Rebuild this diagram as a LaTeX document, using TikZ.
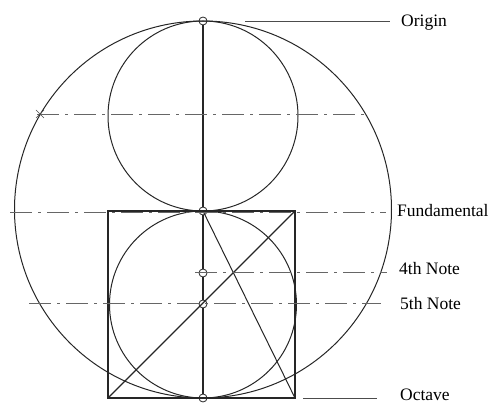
\documentclass[tikz,border=0pt]{standalone}
\usepackage{fontspec}
\setmainfont{Liberation Serif}
\begin{document}
\begin{tikzpicture}[x=1pt,y=-1pt,
  geo/.style={draw=black!85,line width=1pt},
  sq/.style={draw=black!85,line width=1.2pt},
  axis/.style={draw=black!60,line width=0.8pt,dash pattern=on 22pt off 6pt on 3pt off 6pt},
  leader/.style={draw=black!70,line width=0.8pt},
  pt/.style={circle,draw=black!85,line width=0.8pt,inner sep=0pt,minimum size=8pt,fill=none},
  lbl/.style={anchor=base west,inner sep=0pt,font=\fontsize{17.5}{20}\selectfont}]
\useasboundingbox (0,0) rectangle (491,404);
% circles
\draw[geo] (203,209.5) circle[radius=188.5pt];
\draw[geo] (203,116) circle[radius=95pt];
\draw[geo] (203,304.5) circle[radius=93.5pt];
% square
\draw[sq] (108,211) rectangle (295,398);
% points
\node[pt] (O) at (203,21) {};
\node[pt] (F) at (203,211) {};
\node[pt] (N4) at (203,273) {};
\node[pt] (N5) at (203,304) {};
\node[pt] (Oc) at (203,398) {};
\coordinate (BL) at (108,398);
\coordinate (TR) at (295,211);
\coordinate (BR) at (295,398);
% constructions
\draw[sq] (O) -- (F) -- (N4) -- (N5) -- (Oc);
\draw[sq] (BL) -- (TR);
\draw[geo] (F.center) -- (BR);
% labels
\node[lbl] (tO) at (401,26.5) {Origin};
\node[lbl] (tF) at (397,217) {Fundamental};
\node[lbl] (t4) at (399,275) {4th Note};
\node[lbl] (t5) at (400,309) {5th Note};
\node[lbl] (tOc) at (400,400) {Octave};
% leader / axis lines
\coordinate (a1) at (37,114);
\coordinate (a2) at (367,114);
\draw[axis] (a1) -- (a2);
\draw[black!70,line width=0.7pt] (36,110) -- (44,118) (36,118) -- (44,110);
\coordinate (lO1) at (245,21);
\coordinate (lO2) at (390,21);
\draw[leader] (lO1) -- (lO2);
\coordinate (lF1) at (10,212);
\coordinate (lF2) at (386,212);
\draw[axis] (lF1) -- (lF2);
\coordinate (l41) at (195,272);
\coordinate (l42) at (387,272);
\draw[axis] (l41) -- (l42);
\coordinate (l51) at (29,303);
\coordinate (l52) at (381,303);
\draw[axis] (l51) -- (l52);
\coordinate (lc1) at (303,398);
\coordinate (lc2) at (377,398);
\draw[leader] (lc1) -- (lc2);
\end{tikzpicture}
\end{document}
